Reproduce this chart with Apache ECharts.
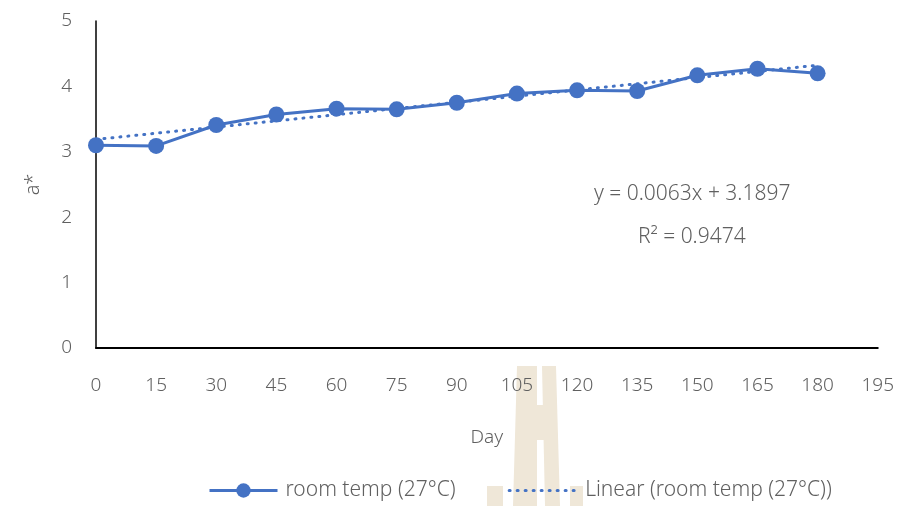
<!DOCTYPE html>
<html>
<head>
<meta charset="utf-8">
<script src="https://cdn.jsdelivr.net/npm/echarts@6/dist/echarts.min.js"></script>
<style>
  html, body { margin: 0; padding: 0; background: #fff; }
  #chart { width: 897px; height: 506px; }
</style>
</head>
<body>
<div id="chart"></div>
<script>
// Storage days and measured a* values
const days = [0, 15, 30, 45, 60, 75, 90, 105, 120, 135, 150, 165, 180];
const aStar = [3.10, 3.09, 3.41, 3.57, 3.66, 3.65, 3.75, 3.89, 3.94, 3.93, 4.17, 4.27, 4.20];

// Linear trend fitted to the series
const trendSlope = 0.0063;
const trendIntercept = 3.1897;
const trendR2 = 0.9474;

const seriesName = 'room temp (27°C)';
const trendName = 'Linear (room temp (27°C))';

const xTicks = { min: 0, max: 195, step: 15 };
const yTicks = { min: 0, max: 5, step: 1 };

const mainColor = '#4472C4';
const textColor = '#606060';
const fontFamily = '"Noto Sans", "DejaVu Sans", sans-serif';
const fontWeight = 300;

const measured = days.map((d, i) => [d, aStar[i]]);
const trendEnds = [days[0], days[days.length - 1]];
const trend = trendEnds.map(d => [d, trendIntercept + trendSlope * d]);

// Faint emblem behind the lower axis area
const mark = '#efe7d8';
const emblem = [
  { type: 'polygon', shape: { points: [[517, 366], [537, 366], [537, 506], [513, 506]] } },
  { type: 'polygon', shape: { points: [[542, 366], [556, 366], [560, 506], [545, 506]] } },
  { type: 'rect', shape: { x: 535, y: 405, width: 9, height: 35 } },
  { type: 'rect', shape: { x: 487, y: 486, width: 16, height: 20 } },
  { type: 'rect', shape: { x: 570, y: 486, width: 13, height: 20 } }
].map(e => Object.assign(e, { style: { fill: mark }, z: -10, silent: true }));

const textBase = { color: textColor, fontFamily: fontFamily, fontWeight: fontWeight };

const chart = echarts.init(document.getElementById('chart'), null, { renderer: 'canvas' });
chart.setOption({
  animation: false,
  backgroundColor: '#ffffff',
  textStyle: { fontFamily: fontFamily },
  grid: { left: 96, right: 18, top: 21, bottom: 158, containLabel: false },
  xAxis: {
    type: 'value',
    min: xTicks.min, max: xTicks.max, interval: xTicks.step,
    name: 'Day', nameLocation: 'middle', nameGap: 80,
    nameTextStyle: Object.assign({ fontSize: 19 }, textBase),
    axisLine: { show: true, onZero: false, lineStyle: { color: '#000', width: 2 } },
    axisTick: { show: false },
    splitLine: { show: false },
    axisLabel: Object.assign({ fontSize: 19, margin: 28 }, textBase)
  },
  yAxis: {
    type: 'value',
    min: yTicks.min, max: yTicks.max, interval: yTicks.step,
    name: 'a*', nameLocation: 'middle', nameGap: 53, nameRotate: 90,
    nameTextStyle: Object.assign({ fontSize: 20 }, textBase),
    axisLine: { show: true, lineStyle: { color: '#000', width: 1.5 } },
    axisTick: { show: false },
    splitLine: { show: false },
    axisLabel: Object.assign({ fontSize: 19, margin: 24 }, textBase)
  },
  legend: {
    bottom: 0, left: 203,
    itemWidth: 68, itemHeight: 18, itemGap: 52,
    textStyle: Object.assign({ fontSize: 21, padding: [0, 0, 0, 3] }, textBase),
    data: [
      { name: seriesName, lineStyle: { width: 3 } },
      { name: trendName, itemStyle: { opacity: 0 }, lineStyle: { width: 3 } }
    ]
  },
  graphic: emblem.concat([
    { type: 'text', left: 594, top: 184, z: 10,
      style: { text: 'y = ' + trendSlope + 'x + ' + trendIntercept, fill: textColor,
               font: fontWeight + ' 21px ' + fontFamily } },
    { type: 'text', left: 638, top: 227, z: 10,
      style: { text: 'R² = ' + trendR2, fill: textColor,
               font: fontWeight + ' 21px ' + fontFamily } }
  ]),
  series: [
    {
      name: seriesName, type: 'line', data: measured,
      symbol: 'circle', symbolSize: 16,
      itemStyle: { color: mainColor },
      lineStyle: { color: mainColor, width: 3 },
      z: 3
    },
    {
      name: trendName, type: 'line', data: trend,
      symbol: 'none',
      itemStyle: { color: mainColor },
      lineStyle: { color: mainColor, width: 3, type: [1, 7], cap: 'round' },
      z: 2
    }
  ]
});
</script>
</body>
</html>
